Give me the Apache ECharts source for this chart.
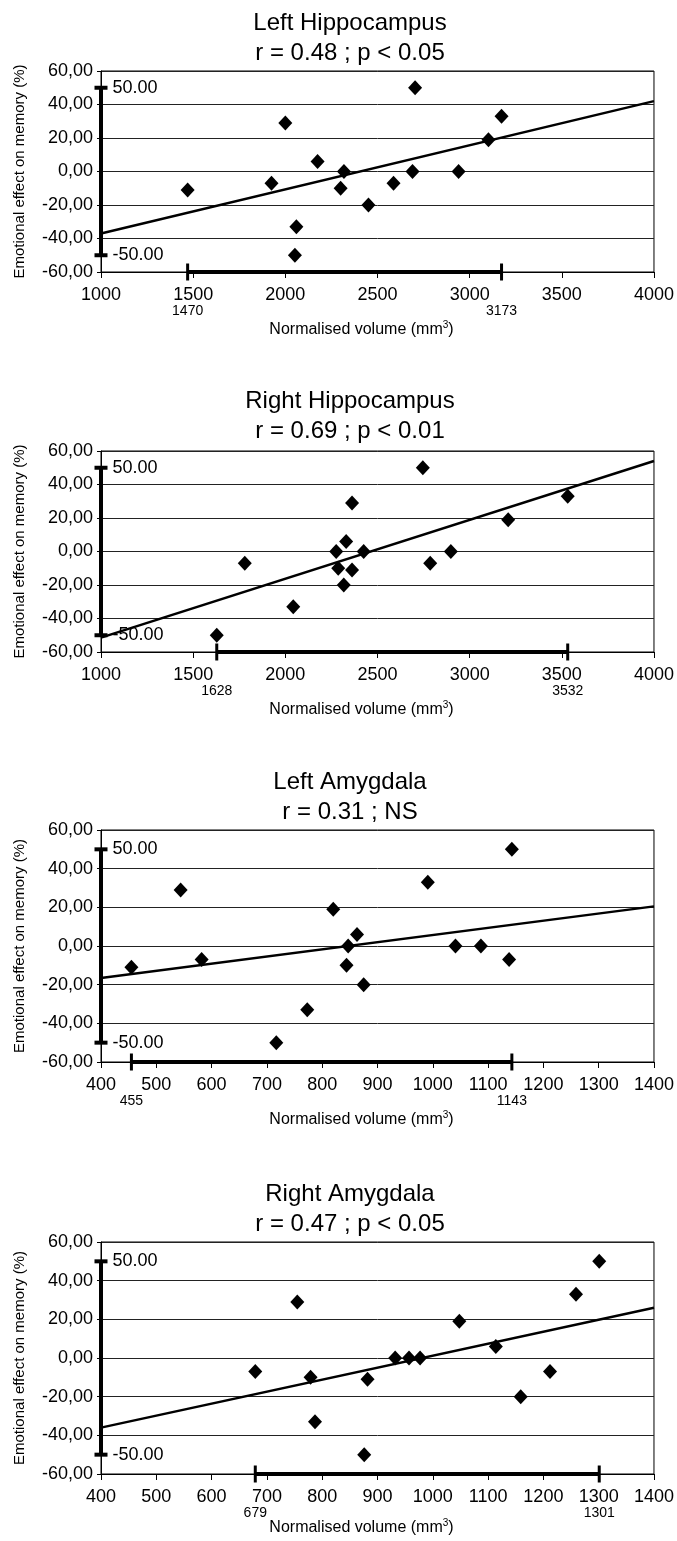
<!DOCTYPE html>
<html>
<head>
<meta charset="utf-8">
<script src="https://cdn.jsdelivr.net/npm/echarts@6/dist/echarts.min.js"></script>
<style>
html,body{margin:0;padding:0;background:#fff}
#c{width:677px;height:1541px}
</style>
</head>
<body>
<div id="c"></div>
<script>
// ---------- DATA ----------
const lhTitle = ['Left Hippocampus', 'r = 0.48 ; p < 0.05'];
const lhVolume = [1470, 1925, 2000, 2052, 2060, 2175, 2300, 2318, 2451, 2587, 2690, 2704, 2940, 3102, 3173];
const lhEffect = [-11, -7, 29, -50, -33, 6, -10, 0, -20, -7, 0, 50, 0, 19, 33];
const lhTrendX = [1000, 4000];
const lhTrendY = [-37, 42];
const lhRange = [1470, 3173];

const rhTitle = ['Right Hippocampus', 'r = 0.69 ; p < 0.01'];
const rhVolume = [1628, 1780, 2043, 2276, 2287, 2317, 2330, 2362, 2362, 2425, 2746, 2786, 2898, 3209, 3532];
const rhEffect = [-50, -7, -33, 0, -10, -20, 6, 29, -11, 0, 50, -7, 0, 19, 33];
const rhTrendX = [1000, 4000];
const rhTrendY = [-51.4, 54];
const rhRange = [1628, 3532];

const laTitle = ['Left Amygdala', 'r = 0.31 ; NS'];
const laVolume = [455, 544, 582, 717, 773, 820, 844, 847, 863, 875, 991, 1041, 1087, 1138, 1143];
const laEffect = [-11, 29, -7, -50, -33, 19, -10, 0, 6, -20, 33, 0, 0, -7, 50];
const laTrendX = [400, 1400];
const laTrendY = [-16.6, 20.5];
const laRange = [455, 1143];

const raTitle = ['Right Amygdala', 'r = 0.47 ; p < 0.05'];
const raVolume = [679, 755, 779, 787, 876, 882, 932, 957, 977, 1048, 1114, 1159, 1212, 1259, 1301];
const raEffect = [-7, 29, -10, -33, -50, -11, 0, 0, 0, 19, 6, -20, -7, 33, 50];
const raTrendX = [400, 1400];
const raTrendY = [-36, 26];
const raRange = [679, 1301];

const effectRange = [-50, 50];
const hippoAxis = [1000, 4000, 500];   // min, max, interval
const amygAxis = [400, 1400, 100];
const effectAxis = [-60, 60, 20];
const xAxisName = 'Normalised volume (mm{sup|3})';
const yAxisName = 'Emotional effect on memory (%)';

// ---------- LAYOUT ----------
const layout = [
  {titleTop: 3,    top: 71,   height: 201, nameGap: 48},
  {titleTop: 381,  top: 451,  height: 201, nameGap: 48},
  {titleTop: 762,  top: 830,  height: 232, nameGap: 48},
  {titleTop: 1174, top: 1242, height: 232, nameGap: 44}
];
const panels = [
  {title: lhTitle, vol: lhVolume, eff: lhEffect, tx: lhTrendX, ty: lhTrendY, range: lhRange, axis: hippoAxis},
  {title: rhTitle, vol: rhVolume, eff: rhEffect, tx: rhTrendX, ty: rhTrendY, range: rhRange, axis: hippoAxis},
  {title: laTitle, vol: laVolume, eff: laEffect, tx: laTrendX, ty: laTrendY, range: laRange, axis: amygAxis},
  {title: raTitle, vol: raVolume, eff: raEffect, tx: raTrendX, ty: raTrendY, range: raRange, axis: amygAxis}
];

const FONT = '"Liberation Sans", Arial, Helvetica, sans-serif';
const BLACK = '#000';

const option = {
  backgroundColor: '#fff',
  animation: false,
  title: [], grid: [], xAxis: [], yAxis: [], series: []
};

panels.forEach((p, i) => {
  const L = layout[i];
  option.title.push({
    text: p.title.join('\n'),
    left: 345, top: L.titleTop, textAlign: 'center',
    textStyle: {fontFamily: FONT, fontSize: 24, fontWeight: 'normal', color: BLACK, lineHeight: 30}
  });
  option.grid.push({
    left: 101, top: L.top, width: 555, height: L.height,
    show: true, borderColor: BLACK, borderWidth: 1, backgroundColor: 'transparent'
  });
  option.xAxis.push({
    gridIndex: i, type: 'value',
    min: p.axis[0], max: p.axis[1], interval: p.axis[2],
    axisLine: {show: true, onZero: false, lineStyle: {color: BLACK, width: 1}},
    axisTick: {show: true, length: 6, lineStyle: {color: BLACK}},
    axisLabel: {color: BLACK, fontFamily: FONT, fontSize: 18, margin: 14,
      formatter: v => String(v)},
    splitLine: {show: false},
    name: xAxisName, nameLocation: 'middle', nameGap: L.nameGap,
    nameTextStyle: {
      color: BLACK, fontFamily: FONT, fontSize: 16, lineHeight: 20, padding: [0, 32, 0, 0],
      rich: {sup: {fontFamily: FONT, fontSize: 10, lineHeight: 10, verticalAlign: 'top', color: BLACK}}
    }
  });
  option.yAxis.push({
    gridIndex: i, type: 'value',
    min: effectAxis[0], max: effectAxis[1], interval: effectAxis[2],
    axisLine: {show: true, onZero: false, lineStyle: {color: BLACK, width: 1}},
    axisTick: {show: true, length: 4, lineStyle: {color: BLACK}},
    axisLabel: {color: BLACK, fontFamily: FONT, fontSize: 18, margin: 8,
      formatter: v => v.toFixed(2).replace('.', ',')},
    splitLine: {show: true, lineStyle: {color: '#222', width: 1}},
    name: yAxisName, nameLocation: 'middle', nameGap: 74,
    nameTextStyle: {color: BLACK, fontFamily: FONT, fontSize: 15}
  });
  // regression line
  option.series.push({
    type: 'line', xAxisIndex: i, yAxisIndex: i,
    data: p.tx.map((x, k) => [x, p.ty[k]]),
    symbol: 'none', showSymbol: false, silent: true, z: 3,
    lineStyle: {color: BLACK, width: 2.5}
  });
  // effect range bar on y axis
  option.series.push({
    type: 'line', xAxisIndex: i, yAxisIndex: i, clip: false, silent: true, z: 4,
    data: effectRange.map(v => [p.axis[0], v]),
    symbol: 'rect', symbolSize: [13, 4], showSymbol: true,
    itemStyle: {color: BLACK}, lineStyle: {color: BLACK, width: 4},
    label: {show: true, position: 'right', distance: 5, color: BLACK, fontFamily: FONT, fontSize: 18,
      formatter: d => d.value[1].toFixed(2)}
  });
  // volume range bar on x axis
  option.series.push({
    type: 'line', xAxisIndex: i, yAxisIndex: i, clip: false, silent: true, z: 4,
    data: p.range.map(v => [v, effectAxis[0]]),
    symbol: 'rect', symbolSize: [3, 17], showSymbol: true,
    itemStyle: {color: BLACK}, lineStyle: {color: BLACK, width: 4},
    label: {show: true, position: 'bottom', distance: 24, color: BLACK, fontFamily: FONT, fontSize: 14,
      formatter: d => String(d.value[0])}
  });
  // subjects
  option.series.push({
    type: 'scatter', xAxisIndex: i, yAxisIndex: i, z: 5,
    data: p.vol.map((x, k) => [x, p.eff[k]]),
    symbol: 'diamond', symbolSize: [14, 15],
    itemStyle: {color: BLACK, opacity: 1}
  });
});

const chart = echarts.init(document.getElementById('c'), null, {renderer: 'canvas'});
chart.setOption(option);
</script>
</body>
</html>
